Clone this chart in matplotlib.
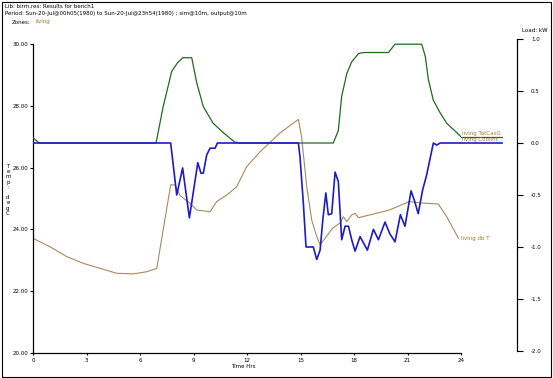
import numpy as np
import matplotlib
matplotlib.use("Agg")
import matplotlib.pyplot as plt
from matplotlib.patches import Rectangle

# ------------------------------------------------------------
# Data
# ------------------------------------------------------------

# living TotCasG (load, kW)
t_cas = [0, 0.35, 6.9, 7.3, 7.78, 8.1, 8.4, 8.9, 9.18, 9.55, 10.1, 10.67, 11.3,
         11.6, 16.84, 17.12, 17.31, 17.6, 17.87, 18.25, 18.53, 19.93, 20.3, 21.8,
         22.0, 22.17, 22.45, 22.83, 23.2, 23.76, 24.0]
v_cas = [0.05, 0.0, 0.0, 0.35, 0.69, 0.77, 0.82, 0.82, 0.58, 0.35, 0.19, 0.1, 0.01,
         0.0, 0.0, 0.12, 0.45, 0.67, 0.78, 0.86, 0.87, 0.87, 0.95, 0.95,
         0.83, 0.61, 0.41, 0.29, 0.19, 0.1, 0.06]

# living CoolInt (load, kW)
t_cool = [0, 7.72, 8.06, 8.39, 8.77, 9.24, 9.42, 9.55, 9.74, 9.93, 10.21, 10.34,
          14.88, 14.97, 15.16, 15.31, 15.72, 15.91, 16.1, 16.25, 16.42, 16.56, 16.75,
          16.94, 17.12, 17.31, 17.5, 17.69, 17.87, 18.06, 18.34, 18.53, 18.75, 19.09,
          19.37, 19.74, 20.0, 20.3, 20.6, 20.86, 21.2, 21.4, 21.6, 21.85, 22.07,
          22.45, 22.64, 22.83, 24.0]
v_cool = [0.0, 0.0, -0.5, -0.24, -0.72, -0.19, -0.29, -0.29, -0.115, -0.05, -0.05, 0.0,
          0.0, -0.13, -0.58, -1.0, -1.0, -1.12, -1.03, -0.74, -0.48, -0.69, -0.68,
          -0.28, -0.37, -0.93, -0.8, -0.8, -0.93, -1.04, -0.9, -0.96, -1.03, -0.83,
          -0.93, -0.76, -0.87, -0.95, -0.69, -0.8, -0.46, -0.56, -0.68, -0.45, -0.31,
          0.0, -0.02, 0.0, 0.0]

# living db T (temperature, degC)
t_db = [0, 0.95, 1.89, 2.82, 3.76, 4.69, 5.63, 6.38, 6.94, 7.72, 7.96, 8.24, 8.8,
        9.18, 9.93, 10.3, 10.86, 11.42, 11.98, 12.73, 13.85, 14.88, 15.06, 15.35,
        15.63, 15.91, 16.1, 16.45, 16.8, 17.2, 17.4, 17.6, 17.87, 18.06, 18.25,
        18.9, 20.0, 21.1, 21.7, 22.73, 23.2, 23.86]
v_db = [23.71, 23.44, 23.12, 22.9, 22.74, 22.58, 22.56, 22.63, 22.74, 25.44, 25.44,
        25.1, 24.85, 24.63, 24.57, 24.9, 25.11, 25.38, 26.03, 26.51, 27.12, 27.56,
        27.0, 25.38, 24.3, 23.77, 23.5, 23.77, 24.04, 24.2, 24.41, 24.25, 24.47,
        24.52, 24.38, 24.47, 24.63, 24.9, 24.86, 24.82, 24.41, 23.71]

x_ticks = [0, 3, 6, 9, 12, 15, 18, 21, 24]
temp_ticks = [20, 22, 24, 26, 28, 30]
load_ticks = [1.0, 0.5, 0.0, -0.5, -1.0, -1.5, -2.0]

# ------------------------------------------------------------
# Style
# ------------------------------------------------------------

plt.rcParams.update({
    "font.family": "DejaVu Sans",
    "font.size": 4,
    "axes.linewidth": 0.9,
})

GREEN = "#1f6a1f"
BLUE = "#1c1cc4"
BROWN = "#a88a5c"
GOLD = "#a07c2a"

W, H = 553, 378
fig = plt.figure(figsize=(W / 100, H / 100), dpi=100)
fig.patch.set_facecolor("white")


def fx(px):
    return px / W


def fy(py):
    return 1 - py / H


# main axes (temperature)
x0, x1 = 33, 461
ax = fig.add_axes([fx(x0), fy(353), fx(x1) - fx(x0), fy(44) - fy(353)])
# load axes
axl = fig.add_axes([fx(x0), fy(351), fx(x1) - fx(x0), fy(39) - fy(351)])
axl.patch.set_visible(False)

# ------------------------------------------------------------
# Temperature axis
# ------------------------------------------------------------

ax.plot(t_db, v_db, color=BROWN, lw=0.8)
ax.set_xlim(0, 24)
ax.set_ylim(20, 30)
ax.set_xticks(x_ticks)
ax.set_xticklabels([str(v) for v in x_ticks])
ax.set_yticks(temp_ticks)
ax.set_yticklabels([f"{v:.2f}" for v in temp_ticks])
ax.tick_params(axis="y", length=2.5, width=0.8, pad=1)
ax.tick_params(axis="x", length=1.5, width=0.8, pad=2)
for s in ["top", "right"]:
    ax.spines[s].set_visible(False)
ax.text(24.0, v_db[-1], "living db T", color=GOLD, fontsize=4,
        ha="left", va="center", clip_on=False)

# ------------------------------------------------------------
# Load axis
# ------------------------------------------------------------

axl.plot(t_cas, v_cas, color=GREEN, lw=0.9)
axl.plot(t_cool, v_cool, color=BLUE, lw=1.2)
axl.set_xlim(0, 24)
axl.set_ylim(-2.0, 1.0)
axl.set_xticks([])
for s in ["top", "left", "bottom"]:
    axl.spines[s].set_visible(False)
axl.yaxis.tick_right()
axl.spines["right"].set_position(("axes", (517 - x0) / (x1 - x0)))
axl.set_yticks(load_ticks)
axl.set_yticklabels([f"{v:.1f}" for v in load_ticks])
axl.tick_params(axis="y", length=4, width=0.8, pad=6)

# end labels with underline extension
x_end = 24 + 41 / ((x1 - x0) / 24)
axl.plot([t_cas[-1], x_end], [v_cas[-1], v_cas[-1]], color=GREEN, lw=0.9, clip_on=False)
axl.plot([t_cool[-1], x_end], [v_cool[-1], v_cool[-1]], color=BLUE, lw=1.2, clip_on=False)
axl.text(24.05, v_cas[-1] + 0.01, "living TotCasG", color=GOLD, fontsize=4,
         ha="left", va="bottom", clip_on=False)
axl.text(24.05, v_cool[-1] + 0.01, "living CoolInt", color=GOLD, fontsize=4,
         ha="left", va="bottom", clip_on=False)

# ------------------------------------------------------------
# Header and labels
# ------------------------------------------------------------

fig.text(fx(5), fy(6), "Lib: birm.res: Results for bench1", ha="left", va="center")
fig.text(fx(5), fy(14),
         "Period: Sun-20-Jul@00h05(1980) to Sun-20-Jul@23h54(1980) ; sim@10m, output@10m",
         ha="left", va="center")
fig.text(fx(12), fy(22), "Zones:", ha="left", va="center")
fig.text(fx(35), fy(22), "living", ha="left", va="center", color=GOLD)

fig.text(fx(8), fy(190), "T\ne\nm\np\n:\n \nd\ne\ng\nC", ha="center", va="center",
         linespacing=1.05)
fig.text(fx(243), fy(367), "Time Hrs", ha="center", va="center")
fig.text(fx(548), fy(30), "Load: kW", ha="right", va="center")

fig.add_artist(Rectangle((fx(1.5), fy(376.5)), fx(549), fy(1.5) - fy(376.5),
                         transform=fig.transFigure, fill=False, lw=0.8,
                         edgecolor="black"))

fig.savefig("out.png", dpi=100)
